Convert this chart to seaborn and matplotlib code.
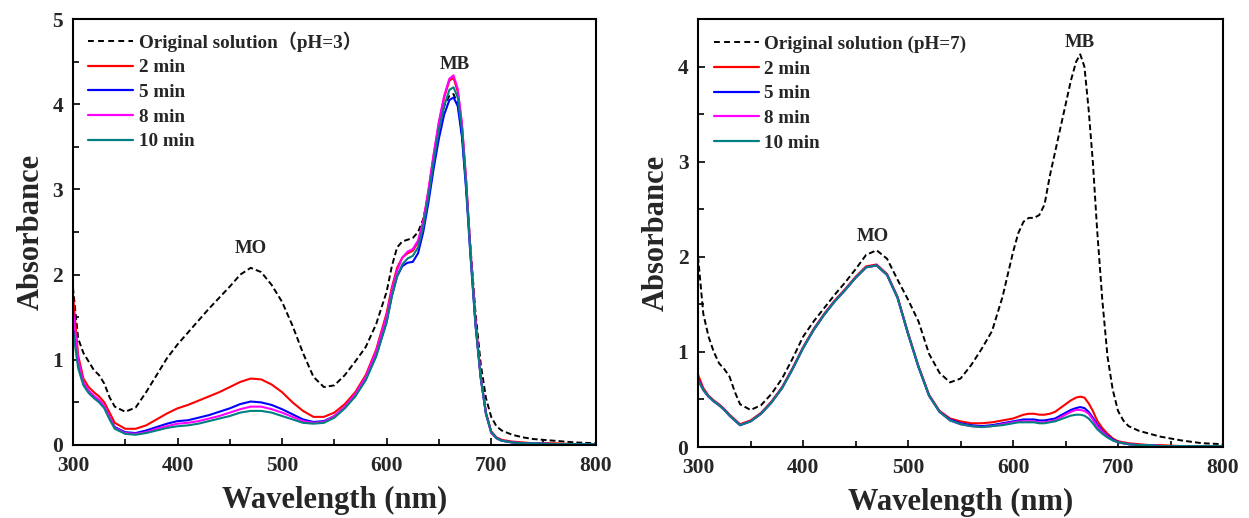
import matplotlib
matplotlib.use("Agg")
import matplotlib.pyplot as plt
from matplotlib.lines import Line2D
from matplotlib.ticker import MultipleLocator
import seaborn as sns

sns.set_theme(style="white")
plt.rcParams['font.family'] = ['Liberation Serif', 'Noto Sans CJK SC', 'DejaVu Sans']
plt.rcParams['font.weight'] = 'bold'

wavelength = [300, 305, 310, 315, 320, 325, 330, 335, 340, 350, 360, 370, 380, 390,
              400, 410, 420, 430, 440, 450, 460, 470, 480, 490, 500, 510, 520, 530,
              540, 550, 560, 570, 580, 590, 600, 605, 610, 615, 620, 625, 630, 635,
              640, 645, 650, 655, 660, 664, 668, 672, 676, 680, 685, 690, 695, 700,
              705, 710, 720, 730, 740, 760, 780, 800]

# ---- pH = 3 ----
ph3_original = [1.85, 1.25, 1.08, 0.98, 0.88, 0.82, 0.72, 0.56, 0.45, 0.39, 0.44, 0.62, 0.82, 1.02,
                1.18, 1.32, 1.46, 1.60, 1.73, 1.86, 2.00, 2.08, 2.03, 1.88, 1.68, 1.40, 1.08, 0.80,
                0.68, 0.70, 0.82, 0.98, 1.15, 1.42, 1.80, 2.10, 2.32, 2.39, 2.41, 2.43, 2.50, 2.65,
                2.95, 3.35, 3.72, 3.98, 4.10, 4.12, 4.00, 3.65, 3.05, 2.35, 1.55, 0.95, 0.55, 0.33,
                0.22, 0.17, 0.12, 0.09, 0.07, 0.05, 0.03, 0.02]
ph3_2min = [1.76, 1.05, 0.78, 0.68, 0.62, 0.57, 0.50, 0.38, 0.26, 0.19, 0.19, 0.23, 0.30, 0.37,
            0.43, 0.47, 0.52, 0.57, 0.62, 0.68, 0.74, 0.78, 0.77, 0.71, 0.62, 0.50, 0.40, 0.33,
            0.33, 0.38, 0.48, 0.62, 0.82, 1.12, 1.55, 1.85, 2.08, 2.20, 2.25, 2.28, 2.38, 2.62,
            2.98, 3.40, 3.78, 4.08, 4.28, 4.31, 4.15, 3.75, 3.10, 2.30, 1.45, 0.80, 0.38, 0.16,
            0.09, 0.06, 0.04, 0.03, 0.02, 0.02, 0.01, 0.01]
ph3_5min = [1.50, 0.95, 0.72, 0.63, 0.57, 0.52, 0.45, 0.32, 0.21, 0.15, 0.14, 0.17, 0.21, 0.25,
            0.28, 0.29, 0.32, 0.35, 0.39, 0.43, 0.48, 0.51, 0.50, 0.47, 0.42, 0.36, 0.30, 0.27,
            0.28, 0.34, 0.44, 0.58, 0.77, 1.05, 1.45, 1.75, 1.98, 2.10, 2.14, 2.15, 2.25, 2.50,
            2.85, 3.25, 3.60, 3.88, 4.05, 4.08, 3.98, 3.62, 3.00, 2.25, 1.40, 0.78, 0.36, 0.15,
            0.08, 0.05, 0.03, 0.02, 0.02, 0.01, 0.01, 0.01]
ph3_8min = [1.60, 1.00, 0.74, 0.64, 0.58, 0.53, 0.46, 0.33, 0.20, 0.14, 0.13, 0.15, 0.19, 0.22,
            0.25, 0.26, 0.28, 0.31, 0.34, 0.38, 0.42, 0.45, 0.45, 0.42, 0.38, 0.33, 0.28, 0.26,
            0.27, 0.34, 0.45, 0.60, 0.80, 1.10, 1.52, 1.82, 2.05, 2.20, 2.27, 2.30, 2.40, 2.62,
            3.00, 3.42, 3.80, 4.10, 4.30, 4.34, 4.18, 3.78, 3.12, 2.32, 1.45, 0.80, 0.37, 0.14,
            0.08, 0.05, 0.03, 0.02, 0.02, 0.01, 0.01, 0.01]
ph3_10min = [1.35, 0.90, 0.70, 0.61, 0.55, 0.50, 0.43, 0.30, 0.19, 0.13, 0.12, 0.14, 0.17, 0.20,
             0.22, 0.23, 0.25, 0.28, 0.31, 0.34, 0.38, 0.40, 0.40, 0.38, 0.34, 0.30, 0.26, 0.25,
             0.26, 0.32, 0.43, 0.57, 0.76, 1.04, 1.44, 1.75, 1.98, 2.12, 2.19, 2.22, 2.32, 2.56,
             2.92, 3.33, 3.70, 3.98, 4.17, 4.20, 4.08, 3.70, 3.06, 2.28, 1.42, 0.79, 0.37, 0.15,
             0.08, 0.05, 0.03, 0.02, 0.02, 0.01, 0.01, 0.01]

# ---- pH = 7 ----
ph7_original = [2.00, 1.40, 1.16, 1.00, 0.88, 0.82, 0.74, 0.58, 0.45, 0.39, 0.44, 0.56, 0.72, 0.93,
                1.16, 1.32, 1.46, 1.60, 1.73, 1.87, 2.02, 2.07, 1.98, 1.76, 1.55, 1.32, 0.98, 0.78,
                0.68, 0.72, 0.86, 1.03, 1.22, 1.58, 2.05, 2.25, 2.37, 2.41, 2.41, 2.44, 2.55, 2.85,
                3.10, 3.35, 3.60, 3.85, 4.05, 4.13, 4.00, 3.55, 3.00, 2.30, 1.55, 0.95, 0.60, 0.38,
                0.28, 0.22, 0.17, 0.14, 0.11, 0.07, 0.04, 0.03]
ph7_2min = [0.76, 0.62, 0.54, 0.49, 0.45, 0.40, 0.34, 0.29, 0.24, 0.28, 0.36, 0.48, 0.63, 0.83,
            1.05, 1.24, 1.40, 1.54, 1.66, 1.79, 1.90, 1.92, 1.82, 1.58, 1.20, 0.85, 0.55, 0.38,
            0.30, 0.27, 0.25, 0.25, 0.26, 0.28, 0.30, 0.32, 0.34, 0.35, 0.35, 0.34, 0.34, 0.35,
            0.37, 0.41, 0.45, 0.49, 0.52, 0.53, 0.52, 0.46, 0.38, 0.28, 0.20, 0.14, 0.09, 0.06,
            0.05, 0.04, 0.03, 0.02, 0.02, 0.01, 0.01, 0.01]
ph7_5min = [0.72, 0.60, 0.53, 0.48, 0.44, 0.39, 0.33, 0.28, 0.23, 0.27, 0.35, 0.47, 0.62, 0.82,
            1.04, 1.23, 1.39, 1.53, 1.65, 1.78, 1.89, 1.91, 1.81, 1.57, 1.19, 0.84, 0.54, 0.37,
            0.29, 0.25, 0.23, 0.22, 0.23, 0.25, 0.27, 0.28, 0.29, 0.29, 0.29, 0.28, 0.28, 0.29,
            0.30, 0.33, 0.36, 0.39, 0.41, 0.42, 0.41, 0.37, 0.31, 0.24, 0.17, 0.12, 0.08, 0.05,
            0.04, 0.03, 0.02, 0.02, 0.01, 0.01, 0.01, 0.01]
ph7_8min = [0.71, 0.60, 0.53, 0.48, 0.44, 0.39, 0.33, 0.28, 0.23, 0.27, 0.35, 0.47, 0.62, 0.82,
            1.04, 1.23, 1.39, 1.53, 1.65, 1.78, 1.89, 1.91, 1.81, 1.57, 1.19, 0.84, 0.54, 0.37,
            0.28, 0.24, 0.22, 0.21, 0.22, 0.24, 0.26, 0.27, 0.27, 0.27, 0.27, 0.26, 0.26, 0.27,
            0.28, 0.31, 0.34, 0.37, 0.39, 0.39, 0.38, 0.35, 0.29, 0.22, 0.16, 0.11, 0.07, 0.05,
            0.04, 0.03, 0.02, 0.02, 0.01, 0.01, 0.01, 0.01]
ph7_10min = [0.70, 0.60, 0.53, 0.48, 0.44, 0.39, 0.33, 0.28, 0.23, 0.27, 0.35, 0.47, 0.62, 0.82,
             1.04, 1.23, 1.39, 1.53, 1.65, 1.78, 1.89, 1.91, 1.81, 1.57, 1.19, 0.84, 0.54, 0.37,
             0.28, 0.24, 0.22, 0.21, 0.22, 0.23, 0.25, 0.26, 0.26, 0.26, 0.26, 0.25, 0.25, 0.26,
             0.27, 0.29, 0.31, 0.33, 0.34, 0.34, 0.33, 0.30, 0.25, 0.19, 0.14, 0.10, 0.07, 0.05,
             0.04, 0.03, 0.02, 0.02, 0.01, 0.01, 0.01, 0.01]

series_labels = ["2 min", "5 min", "8 min", "10 min"]
series_colors = ["#ff0000", "#0000ff", "#ff00ff", "#008080"]
legend_titles = ["Original solution\uff08pH=3\uff09", "Original solution (pH=7)"]

fig = plt.figure(figsize=(12.49, 5.18), dpi=100)
ax1 = fig.add_axes([0.0584, 0.141, 0.4186, 0.822])
ax2 = fig.add_axes([0.5589, 0.137, 0.4203, 0.826])

panels = [
    (ax1, ph3_original, [ph3_2min, ph3_5min, ph3_8min, ph3_10min], 5.0, legend_titles[0],
     [("MO", 470, 2.21), ("MB", 665, 4.37)], 0.99),
    (ax2, ph7_original, [ph7_2min, ph7_5min, ph7_8min, ph7_10min], 4.5, legend_titles[1],
     [("MO", 466, 2.12), ("MB", 664, 4.16)], 0.98),
]

dash = (0, (3.0, 1.6))
for ax, orig, curves, ymax, title, notes, legy in panels:
    sns.lineplot(x=wavelength, y=orig, ax=ax, color="black", linewidth=1.4, linestyle=dash)
    for vals, col in zip(curves, series_colors):
        sns.lineplot(x=wavelength, y=vals, ax=ax, color=col, linewidth=1.5)
    ax.set_xlim(300, 800)
    ax.set_ylim(0, ymax)
    ax.xaxis.set_major_locator(MultipleLocator(100))
    ax.xaxis.set_minor_locator(MultipleLocator(50))
    ax.yaxis.set_major_locator(MultipleLocator(1))
    ax.yaxis.set_minor_locator(MultipleLocator(0.5))
    ax.tick_params(axis="both", which="both", direction="in", top=False, right=False,
                   left=True, bottom=True, width=1.2, color="black")
    ax.tick_params(axis="both", which="major", length=5, labelsize=15.5)
    ax.tick_params(axis="x", which="major", pad=8)
    ax.tick_params(axis="y", which="major", pad=7)
    ax.tick_params(axis="both", which="minor", length=4)
    for lab in ax.get_xticklabels() + ax.get_yticklabels():
        lab.set_fontweight("bold")
    for sp in ax.spines.values():
        sp.set_color("black")
        sp.set_linewidth(1.5)
    ax.set_xlabel("Wavelength (nm)", fontsize=22, fontweight="bold", labelpad=7)
    ax.set_ylabel("Absorbance", fontsize=22, fontweight="bold", labelpad=5)
    ax.grid(False)
    for txt, x, y in notes:
        ax.text(x, y, txt, ha="center", va="bottom", fontsize=13.5, fontweight="bold")
    handles = [Line2D([], [], color="black", linewidth=1.4, linestyle=(0, (3.0, 2.2)))]
    handles += [Line2D([], [], color=c, linewidth=1.6) for c in series_colors]
    leg = ax.legend(handles, [title] + series_labels, loc="upper left", frameon=False,
                    fontsize=13.8, handlelength=2.35, handletextpad=0.3, labelspacing=0.38,
                    borderaxespad=0.0, bbox_to_anchor=(0.015, legy))
    for t in leg.get_texts():
        t.set_fontweight("bold")

fig.savefig("out.png", dpi=100, facecolor="white")
